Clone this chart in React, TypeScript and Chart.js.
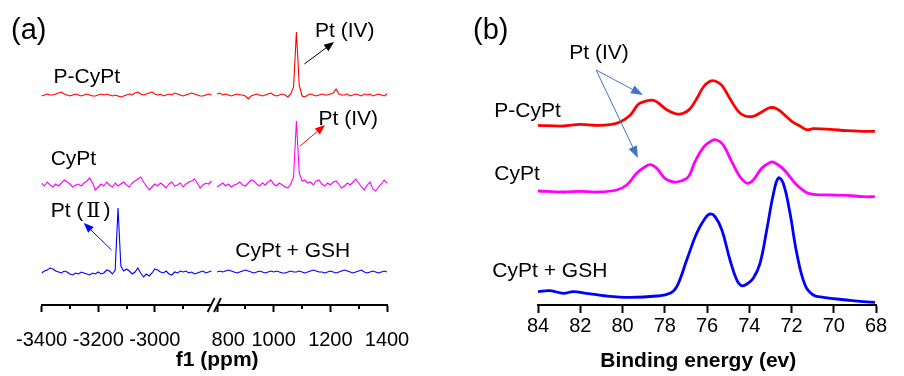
import React, { useEffect, useRef } from "react";
import { Chart, registerables } from "chart.js";
Chart.register(...registerables);

const FONT = "'Liberation Sans', Arial, 'Noto Sans CJK SC', sans-serif";
const ROMAN_FONT = "'DejaVu Serif', 'DejaVu Sans', 'Noto Sans CJK SC', serif";

// ---------------- Panel (a): 195Pt NMR, broken x axis (ppm) ----------------
const nmrLeftStart = -3400;
const nmrLeftEnd = -2800;
const nmrRightStart = 800;
const nmrRightEnd = 1400;
const nmrStep = 10;
const nmrMajorTicks = [-3400, -3200, -3000, 800, 1000, 1200, 1400];
const nmrMinorTicks = [-3300, -3100, -2900, 900, 1100, 1300];

// intensities (arbitrary units) sampled every nmrStep ppm
const pCyPtNmrLeft = [
  -1, 0, 1, 0, 0, 1, 2, 3, 1, 0,
  -1, 0, 1, 0, -1, 0, 1, 0, -1, -1,
  0, 1, 0, 1, 0, -1, 0, -1, -2, -1,
  0, 1, 0, 2, 3, 1, 0, 1, 2, 3,
  1, 0, 1, -1, 0, 1, 0, 2, 1, 0,
  -1, 0, 1, 2, 1, 0, -1, -1, 0, 1,
  0,
];
const pCyPtNmrRight = [
  1, 2, 0, 1, 0, -1, 0, 1, 0, 0,
  -1, -4, -1, 0, 1, 0, -1, 0, 1, 2,
  0, -1, 0, 1, 0, -2, 1, 8, 63, 10,
  -1, -2, 0, 1, 0, -1, 0, 1, 0, 0,
  1, 2, 6, 1, 0, 0, 1, -1, 0, 1,
  0, -1, 1, 0, 1, -1, 0, 1, 0, -1,
  1,
];
const cyPtNmrLeft = [
  2, -1, 3, 0, -2, 1, -1, 2, 5, 3,
  1, -2, 0, 1, -1, 2, 4, 7, 2, -5,
  -2, 1, -1, 3, 0, -2, 2, -1, 1, 3,
  0, -2, 2, 4, 6, 8, 3, -1, -5, -2,
  1, -1, 2, 0, -3, 1, 3, -1, 0, 2,
  -2, 1, 3, 4, 6, 2, -3, 0, 2, 1,
  4,
];
const cyPtNmrRight = [
  -2, 0, 2, -1, 1, -2, 0, 1, 3, 0,
  -1, 2, 5, 4, 1, -1, 2, 0, 3, 5,
  1, -1, 2, 0, -2, -3, 1, 8, 64, 12,
  4, 5, 2, 3, 0, 4, 5, 1, -1, 2,
  0, 3, 4, 1, -3, -1, 2, 0, 3, 6,
  2, -2, -5, 0, 3, -4, -6, -2, 1, 5,
  2,
];
const gshNmrLeft = [
  -1, 1, 2, 4, 3, 1, 0, -1, 1, 0,
  -2, -3, -1, -2, 0, -1, -2, -3, -1, -2,
  0, -2, -1, 2, 1, -2, 2, 64, 6, 1,
  3, 1, -2, 0, 4, -1, -5, -2, -4, -1,
  3, 2, 0, -1, 1, -2, -3, 0, -1, 1,
  0, 1, -1, 0, -2, -1, 0, 1, -1, 0,
  1,
];
const gshNmrRight = [
  0, 1, 0, 1, 2, 1, 0, -1, 0, 1,
  2, 1, 0, -1, 0, 1, 0, -1, 0, 1,
  0, 1, 0, -1, -1, 0, 1, 0, 0, 1,
  0, -1, 0, 1, 2, 1, 0, 0, -1, 0,
  1, 0, -1, 0, 1, 2, 1, 0, -1, 0,
  1, 2, 0, -1, 0, 1, 0, -1, 0, 1,
  0,
];
// vertical stacking offsets of the spectra
const nmrOffsets = { pCyPt: 210, cyPt: 120, gsh: 33 };

// ---------------- Panel (b): XPS Pt 4f ----------------
const xpsTicks = [84, 82, 80, 78, 76, 74, 72, 70, 68];
const pCyPtXpsEv = [84.0, 82.8, 82.01, 81.22, 80.59, 80.12, 79.64, 79.25, 78.93, 78.54, 78.3, 77.91, 77.43, 77.12, 76.8, 76.49, 76.17, 75.86, 75.62, 75.3, 74.91, 74.52, 74.2, 73.81, 73.41, 73.02, 72.7, 72.39, 71.99, 71.6, 71.28, 70.97, 70.18, 69.39, 68.6, 68.05];
const pCyPtXpsInt = [179.7, 179, 180.7, 179.7, 180.3, 183, 189.7, 200.7, 203.7, 204.7, 202, 195.3, 191, 191.7, 196.3, 206.3, 218, 223.7, 224, 219.7, 206.3, 193.7, 189, 188.7, 193, 197.3, 196.3, 191.3, 183.7, 179, 175.3, 176.3, 175.7, 174.3, 173.7, 173.7];
const cyPtXpsEv = [84.0, 82.8, 82.01, 81.22, 80.28, 79.8, 79.33, 78.93, 78.67, 78.38, 77.99, 77.59, 77.2, 76.88, 76.57, 76.17, 75.78, 75.54, 75.23, 74.83, 74.44, 74.09, 73.81, 73.41, 73.1, 72.9, 72.62, 72.3, 71.75, 71.28, 70.97, 70.18, 69.39, 68.6, 68.05];
const cyPtXpsInt = [114, 113, 113.7, 113, 115, 120, 131.7, 138.3, 140.3, 136.7, 126.7, 123, 124.3, 128.3, 143.3, 157.7, 164.3, 165, 160, 143.3, 128.3, 121.7, 125, 136.7, 141.5, 143, 140, 134, 120, 112.3, 110.7, 110, 109.7, 108.3, 108.3];
const gshXpsEv = [84.0, 83.43, 82.8, 82.33, 81.7, 80.75, 79.64, 78.38, 77.75, 77.43, 76.96, 76.49, 76.09, 75.86, 75.62, 75.3, 74.91, 74.59, 74.36, 74.12, 73.81, 73.49, 73.17, 72.86, 72.62, 72.39, 72.07, 71.75, 71.36, 70.97, 70.49, 69.39, 68.6, 68.05];
const gshXpsInt = [13.3, 14.3, 11.7, 13.3, 11.7, 9, 7.7, 9, 11.7, 18.3, 45, 71.7, 86.7, 91, 88.3, 75.3, 45, 25, 19.3, 20.7, 26.7, 41.7, 75.3, 110.7, 127, 121.7, 91.7, 51.7, 20, 10, 7.7, 5, 3.3, 2.7];

// ---------------- annotations (data coordinates) ----------------
const nmrLabels = [
  { text: "P-CyPt", x: -3358, y: 222 },
  { text: "Pt (IV)", x: 1146, y: 268 },
  { text: "Pt (IV)", x: 1158, y: 180 },
  { text: "CyPt", x: -3368, y: 140 },
  { text: "Pt (\u2161)", x: -3368, y: 88 },
  { text: "CyPt + GSH", x: 864, y: 48 },
];
const nmrArrows = [
  { x1: 1108, y1: 241, x2: 1213, y2: 263, color: "#000000" },
  { x1: 1093, y1: 159, x2: 1181, y2: 180, color: "#FF0000" },
  { x1: -3153, y1: 55, x2: -3251, y2: 82, color: "#0000FF" },
];
const xpsLabels = [
  { text: "Pt (IV)", x: 82.52, y: 246 },
  { text: "P-CyPt", x: 86.07, y: 188 },
  { text: "CyPt", x: 86.07, y: 125 },
  { text: "CyPt + GSH", x: 86.16, y: 28 },
];
const xpsArrows = [
  { x1: 81.25, y1: 235, x2: 79.03, y2: 210 },
  { x1: 81.25, y1: 235, x2: 79.27, y2: 147 },
];

// ---------------- helpers ----------------
const LEFT_SPAN = nmrLeftEnd - nmrLeftStart;
const GAP = 20;
const V_MAX = LEFT_SPAN + GAP + (nmrRightEnd - nmrRightStart);
const toV = (ppm: number) =>
  ppm <= nmrLeftEnd ? ppm - nmrLeftStart : ppm - nmrRightStart + LEFT_SPAN + GAP;
const fromV = (v: number) =>
  v <= LEFT_SPAN ? v + nmrLeftStart : v - LEFT_SPAN - GAP + nmrRightStart;

const seg = (arr: number[], start: number, off: number) =>
  arr.map((y, i) => ({ x: toV(start + i * nmrStep), y: y + off }));
const xy = (xs: number[], ys: number[]) => xs.map((x, i) => ({ x, y: ys[i] }));

function drawArrow(ctx: CanvasRenderingContext2D, x1: number, y1: number, x2: number, y2: number, color: string, lw: number, hl: number, hw: number) {
  const a = Math.atan2(y2 - y1, x2 - x1);
  const bx = x2 - hl * Math.cos(a);
  const by = y2 - hl * Math.sin(a);
  ctx.save();
  ctx.strokeStyle = color;
  ctx.lineWidth = lw;
  ctx.beginPath();
  ctx.moveTo(x1, y1);
  ctx.lineTo(bx, by);
  ctx.stroke();
  ctx.fillStyle = color;
  ctx.beginPath();
  ctx.moveTo(x2, y2);
  ctx.lineTo(bx + (hw / 2) * Math.sin(a), by - (hw / 2) * Math.cos(a));
  ctx.lineTo(bx - (hw / 2) * Math.sin(a), by + (hw / 2) * Math.cos(a));
  ctx.closePath();
  ctx.fill();
  ctx.restore();
}

// draws text, using a serif face for the Roman numeral glyph
function drawLabel(ctx: CanvasRenderingContext2D, text: string, x: number, y: number, size: number) {
  let cx = x;
  const runs = text.split(/(\u2161)/).filter((r) => r.length);
  runs.forEach((r) => {
    if (r === "\u2161") {
      ctx.font = `${size}px ${ROMAN_FONT}`;
      cx += 3;
      ctx.fillText(r, cx, y);
      cx += ctx.measureText(r).width + 3;
    } else {
      ctx.font = `${size}px ${FONT}`;
      ctx.fillText(r, cx, y);
      cx += ctx.measureText(r).width;
    }
  });
}

function PanelA() {
  const ref = useRef<HTMLCanvasElement>(null);
  useEffect(() => {
    const line = (data: any[], color: string) => ({
      data,
      borderColor: color,
      borderWidth: 1.1,
      pointRadius: 0,
      tension: 0,
      fill: false,
    });
    const plugin = {
      id: "nmrDecor",
      afterDraw(chart: any) {
        const { ctx, chartArea } = chart;
        const xs = chart.scales.x;
        const ys = chart.scales.y;
        const bottom = chartArea.bottom;
        ctx.save();
        // minor ticks
        ctx.strokeStyle = "#000";
        ctx.lineWidth = 2;
        nmrMinorTicks.forEach((t) => {
          const px = Math.round(xs.getPixelForValue(toV(t)));
          ctx.beginPath();
          ctx.moveTo(px, bottom);
          ctx.lineTo(px, bottom + 4);
          ctx.stroke();
        });
        // axis break mark
        const bx = xs.getPixelForValue(LEFT_SPAN + GAP / 2);
        ctx.fillStyle = "#fff";
        ctx.fillRect(bx - 3, bottom - 2, 6, 4);
        ctx.strokeStyle = "#000";
        ctx.lineWidth = 1.8;
        [-3.2, 3.2].forEach((d) => {
          ctx.beginPath();
          ctx.moveTo(bx + d - 3.5, bottom + 7);
          ctx.lineTo(bx + d + 3.5, bottom - 7);
          ctx.stroke();
        });
        // labels
        ctx.fillStyle = "#000";
        ctx.textBaseline = "alphabetic";
        ctx.textAlign = "left";
        nmrLabels.forEach((l) => {
          drawLabel(ctx, l.text, xs.getPixelForValue(toV(l.x)), ys.getPixelForValue(l.y), 21);
        });
        nmrArrows.forEach((a) => {
          drawArrow(
            ctx,
            xs.getPixelForValue(toV(a.x1)), ys.getPixelForValue(a.y1),
            xs.getPixelForValue(toV(a.x2)), ys.getPixelForValue(a.y2),
            a.color, 1, 10, 8
          );
        });
        ctx.font = `29px ${FONT}`;
        ctx.fillText("(a)", 11, 39);
        ctx.restore();
      },
    };
    const chart = new Chart(ref.current!, {
      type: "line",
      data: {
        datasets: [
          line(seg(pCyPtNmrLeft, nmrLeftStart, nmrOffsets.pCyPt), "#FF0000"),
          line(seg(pCyPtNmrRight, nmrRightStart, nmrOffsets.pCyPt), "#FF0000"),
          line(seg(cyPtNmrLeft, nmrLeftStart, nmrOffsets.cyPt), "#FF00FF"),
          line(seg(cyPtNmrRight, nmrRightStart, nmrOffsets.cyPt), "#FF00FF"),
          line(seg(gshNmrLeft, nmrLeftStart, nmrOffsets.gsh), "#0000FF"),
          line(seg(gshNmrRight, nmrRightStart, nmrOffsets.gsh), "#0000FF"),
        ] as any,
      },
      options: {
        animation: false,
        responsive: false,
        devicePixelRatio: 1,
        layout: { padding: { left: 41, right: 63, top: 5, bottom: 0 } },
        plugins: { legend: { display: false }, tooltip: { enabled: false } },
        scales: {
          x: {
            type: "linear",
            min: 0,
            max: V_MAX,
            afterBuildTicks: (s: any) => {
              s.ticks = nmrMajorTicks.map((t) => ({ value: toV(t) }));
            },
            afterFit: (s: any) => {
              s.height = 71;
            },
            grid: { drawOnChartArea: false, drawTicks: true, tickLength: 7, tickWidth: 2, tickColor: "#000" },
            border: { display: true, width: 2, color: "#000" },
            ticks: {
              autoSkip: false,
              maxRotation: 0,
              minRotation: 0,
              padding: 16,
              color: "#000",
              font: { family: FONT, size: 20 },
              callback: (v: any) => {
                const p = Math.round(fromV(Number(v)));
                return p === nmrRightStart ? "    " + p : String(p);
              },
            },
            title: {
              display: true,
              text: " f1 (ppm)",
              color: "#000",
              font: { family: FONT, size: 21, weight: "bold" },
              padding: { top: 0, bottom: 3 },
            },
          },
          y: { display: false, min: 0, max: 300 },
        },
      } as any,
      plugins: [plugin],
    });
    return () => chart.destroy();
  }, []);
  return <canvas ref={ref} width={450} height={376} style={{ position: "absolute", left: 0, top: 0, width: 450, height: 376 }} />;
}

function PanelB() {
  const ref = useRef<HTMLCanvasElement>(null);
  useEffect(() => {
    const line = (data: any[], color: string) => ({
      data,
      borderColor: color,
      borderWidth: 2.8,
      pointRadius: 0,
      tension: 0.4,
      fill: false,
    });
    const plugin = {
      id: "xpsDecor",
      afterDraw(chart: any) {
        const { ctx } = chart;
        const xs = chart.scales.x;
        const ys = chart.scales.y;
        ctx.save();
        ctx.fillStyle = "#000";
        ctx.textBaseline = "alphabetic";
        ctx.textAlign = "left";
        xpsLabels.forEach((l) => {
          drawLabel(ctx, l.text, xs.getPixelForValue(l.x), ys.getPixelForValue(l.y), 21);
        });
        xpsArrows.forEach((a) => {
          drawArrow(
            ctx,
            xs.getPixelForValue(a.x1), ys.getPixelForValue(a.y1),
            xs.getPixelForValue(a.x2), ys.getPixelForValue(a.y2),
            "#4472C4", 1, 12, 9
          );
        });
        ctx.font = `29px ${FONT}`;
        ctx.fillText("(b)", 473 - 450, 39);
        ctx.restore();
      },
    };
    const chart = new Chart(ref.current!, {
      type: "line",
      data: {
        datasets: [
          line(xy(pCyPtXpsEv, pCyPtXpsInt), "#FF0000"),
          line(xy(cyPtXpsEv, cyPtXpsInt), "#FF00FF"),
          line(xy(gshXpsEv, gshXpsInt), "#0000FF"),
        ] as any,
      },
      options: {
        animation: false,
        responsive: false,
        devicePixelRatio: 1,
        layout: { padding: { left: 88, right: 28, top: 5, bottom: 0 } },
        plugins: { legend: { display: false }, tooltip: { enabled: false } },
        scales: {
          x: {
            type: "linear",
            reverse: true,
            min: 68,
            max: 84,
            afterBuildTicks: (s: any) => {
              s.ticks = xpsTicks.map((t) => ({ value: t }));
            },
            afterFit: (s: any) => {
              s.height = 71;
            },
            grid: { drawOnChartArea: false, drawTicks: true, tickLength: 8, tickWidth: 2, tickColor: "#000" },
            border: { display: true, width: 2, color: "#000" },
            ticks: {
              autoSkip: false,
              maxRotation: 0,
              minRotation: 0,
              padding: 1,
              color: "#000",
              font: { family: FONT, size: 20 },
              callback: (v: any) => String(v),
            },
            title: {
              display: true,
              text: "Binding energy (ev)   ",
              color: "#000",
              font: { family: FONT, size: 21, weight: "bold" },
              padding: { top: 0, bottom: 2 },
            },
          },
          y: { display: false, min: 0, max: 300 },
        },
      } as any,
      plugins: [plugin],
    });
    return () => chart.destroy();
  }, []);
  return <canvas ref={ref} width={454} height={376} style={{ position: "absolute", left: 450, top: 0, width: 454, height: 376 }} />;
}

export default function App() {
  return (
    <div style={{ position: "fixed", left: 0, top: 0, width: 904, height: 376, background: "#fff", overflow: "hidden" }}>
      <PanelA />
      <PanelB />
    </div>
  );
}
